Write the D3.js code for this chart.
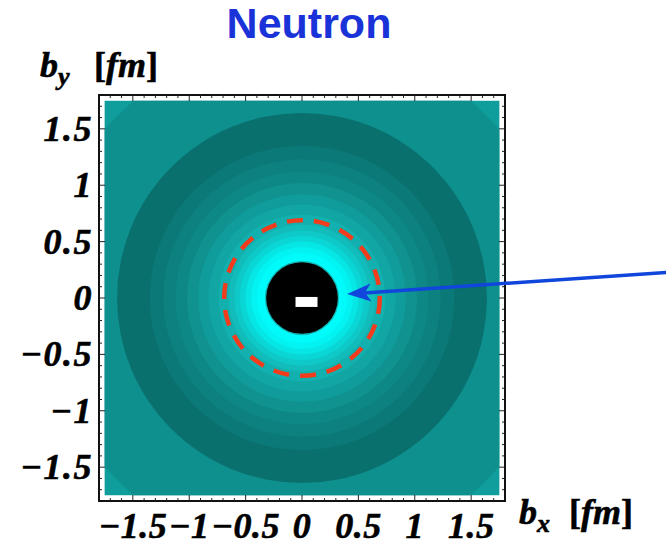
<!DOCTYPE html>
<html>
<head>
<meta charset="utf-8">
<script src="https://cdn.jsdelivr.net/npm/d3@7"></script>
<style>
  body { margin: 0; background: #fff; }
  text { font-family: "Liberation Serif", "DejaVu Serif", serif; }
</style>
</head>
<body>
<div id="chart"></div>
<script>
// chart values
const title = 'Neutron';
const tickValues = [-1.5, -1, -0.5, 0, 0.5, 1, 1.5];
const tickLabels = ['\u22121.5', '\u22121', '\u22120.5', '0', '0.5', '1', '1.5'];
// contour bands: outer radius (fm) and relative density level
const bandRadius = [2.6, 2.3, 1.64, 1.35, 1.23, 1.12, 1.02, 0.92, 0.83, 0.74, 0.65, 0.6, 0.55, 0.5, 0.45, 0.4, 0.345, 0.33, 0.318];
const bandLevel  = [0.34, 0.235, 0.0, 0.066, 0.125, 0.18, 0.25, 0.32, 0.39, 0.47, 0.55, 0.64, 0.73, 0.83, 0.92, 0.97, 1.0, 0.55, -1];
const dashedRadius = 0.69;
const arrowFrom = [3.3, 0.23];
const arrowTo = [0.40, 0.035];
const minusMark = [0.04, -0.035];

const W = 666, H = 546;
const frameLeft = 99, frameTop = 95, frameSize = 406;
const domain = [-1.8, 1.8];
const fillExtent = 1.75;

const svg = d3.select('#chart').append('svg')
  .attr('width', W).attr('height', H);

const x = d3.scaleLinear().domain(domain).range([frameLeft, frameLeft + frameSize]);
const y = d3.scaleLinear().domain(domain).range([frameTop + frameSize, frameTop]);
const rpx = r => x(r) - x(0);

const color = d3.scaleLinear()
  .domain([-1, -0.3, 0, 0.5, 1])
  .range(['#000000', '#004848', '#0a706e', '#13b4b2', '#00ffff'])
  .clamp(true);

// density plot
svg.append('clipPath').attr('id', 'fillclip')
  .append('rect')
  .attr('x', x(-fillExtent)).attr('y', y(fillExtent))
  .attr('width', x(fillExtent) - x(-fillExtent))
  .attr('height', y(-fillExtent) - y(fillExtent));

const plot = svg.append('g').attr('clip-path', 'url(#fillclip)');
plot.selectAll('circle.band')
  .data(bandRadius.map((r, i) => ({ r, level: bandLevel[i] })))
  .join('circle')
  .attr('class', 'band')
  .attr('cx', x(0)).attr('cy', y(0))
  .attr('r', d => rpx(d.r))
  .attr('fill', d => color(d.level));

// minus sign in the core
plot.append('rect')
  .attr('x', x(minusMark[0]) - 11).attr('y', y(minusMark[1]) - 5)
  .attr('width', 22).attr('height', 10)
  .attr('fill', '#fff');

// dashed circle
svg.append('circle')
  .attr('cx', x(0)).attr('cy', y(0))
  .attr('r', rpx(dashedRadius))
  .attr('fill', 'none')
  .attr('stroke', '#f23c1c')
  .attr('stroke-width', 4.5)
  .attr('stroke-dasharray', '16 11');

// frame
svg.append('rect')
  .attr('x', frameLeft).attr('y', frameTop)
  .attr('width', frameSize).attr('height', frameSize)
  .attr('fill', 'none').attr('stroke', '#111').attr('stroke-width', 2);

const minor = d3.range(-17, 18).map(i => i / 10);
const tickLen = v => (Math.abs(v * 2 - Math.round(v * 2)) < 1e-6 ? 6 : 3);
const ticks = svg.append('g').attr('stroke', '#222').attr('stroke-width', 1);
minor.forEach(v => {
  const L = tickLen(v);
  ticks.append('line').attr('x1', x(v)).attr('x2', x(v)).attr('y1', y(domain[0])).attr('y2', y(domain[0]) - L);
  ticks.append('line').attr('x1', x(v)).attr('x2', x(v)).attr('y1', y(domain[1])).attr('y2', y(domain[1]) + L);
  ticks.append('line').attr('y1', y(v)).attr('y2', y(v)).attr('x1', x(domain[0])).attr('x2', x(domain[0]) + L);
  ticks.append('line').attr('y1', y(v)).attr('y2', y(v)).attr('x1', x(domain[1])).attr('x2', x(domain[1]) - L);
});

// tick labels
const labelStyle = s => s.attr('font-size', 36).attr('font-weight', 'bold').attr('font-style', 'italic')
  .attr('fill', '#000').attr('stroke', '#000').attr('stroke-width', 0.6);
svg.append('g').selectAll('text')
  .data(tickValues)
  .join('text')
  .attr('x', d => x(d)).attr('y', 538)
  .attr('text-anchor', 'middle')
  .attr('letter-spacing', 0.5)
  .text((d, i) => tickLabels[i])
  .call(labelStyle);

svg.append('g').selectAll('text')
  .data(tickValues)
  .join('text')
  .attr('x', 93).attr('y', d => y(d) + 12)
  .attr('text-anchor', 'end')
  .attr('letter-spacing', 1.5)
  .text((d, i) => tickLabels[i])
  .call(labelStyle);

// axis titles
function axisTitle(tx, ty, sub, bx) {
  const t = svg.append('text').attr('x', tx).attr('y', ty).call(labelStyle);
  t.append('tspan').text('b');
  t.append('tspan').attr('dy', 8).attr('font-size', 26).text(sub);
  t.append('tspan').attr('dy', -8).attr('x', bx).attr('font-style', 'normal').text('[');
  t.append('tspan').text('fm');
  t.append('tspan').attr('font-style', 'normal').text(']');
}
axisTitle(40, 77, 'y', 94);
axisTitle(519, 524, 'x', 569);

// title
svg.append('text')
  .attr('x', 309).attr('y', 38)
  .attr('text-anchor', 'middle')
  .style('font-family', '"Liberation Sans", Arial, sans-serif')
  .attr('font-size', 43).attr('font-weight', 'bold')
  .attr('fill', '#1a33d9')
  .text(title);

// arrow
const ax0 = x(arrowFrom[0]), ay0 = y(arrowFrom[1]);
const ax1 = x(arrowTo[0]), ay1 = y(arrowTo[1]);
const ang = Math.atan2(ay1 - ay0, ax1 - ax0);
const headLen = 24, headHalf = 9, notch = 6;
const ux = Math.cos(ang), uy = Math.sin(ang);
const bx = ax1 - ux * headLen, by = ay1 - uy * headLen;
svg.append('line')
  .attr('x1', ax0).attr('y1', ay0)
  .attr('x2', ax1 - ux * 10).attr('y2', ay1 - uy * 10)
  .attr('stroke', '#1046dc').attr('stroke-width', 3.5);
svg.append('path')
  .attr('d', `M${ax1},${ay1} L${bx - uy * headHalf},${by + ux * headHalf} L${bx + ux * notch},${by + uy * notch} L${bx + uy * headHalf},${by - ux * headHalf} Z`)
  .attr('fill', '#1046dc');
</script>
</body>
</html>
